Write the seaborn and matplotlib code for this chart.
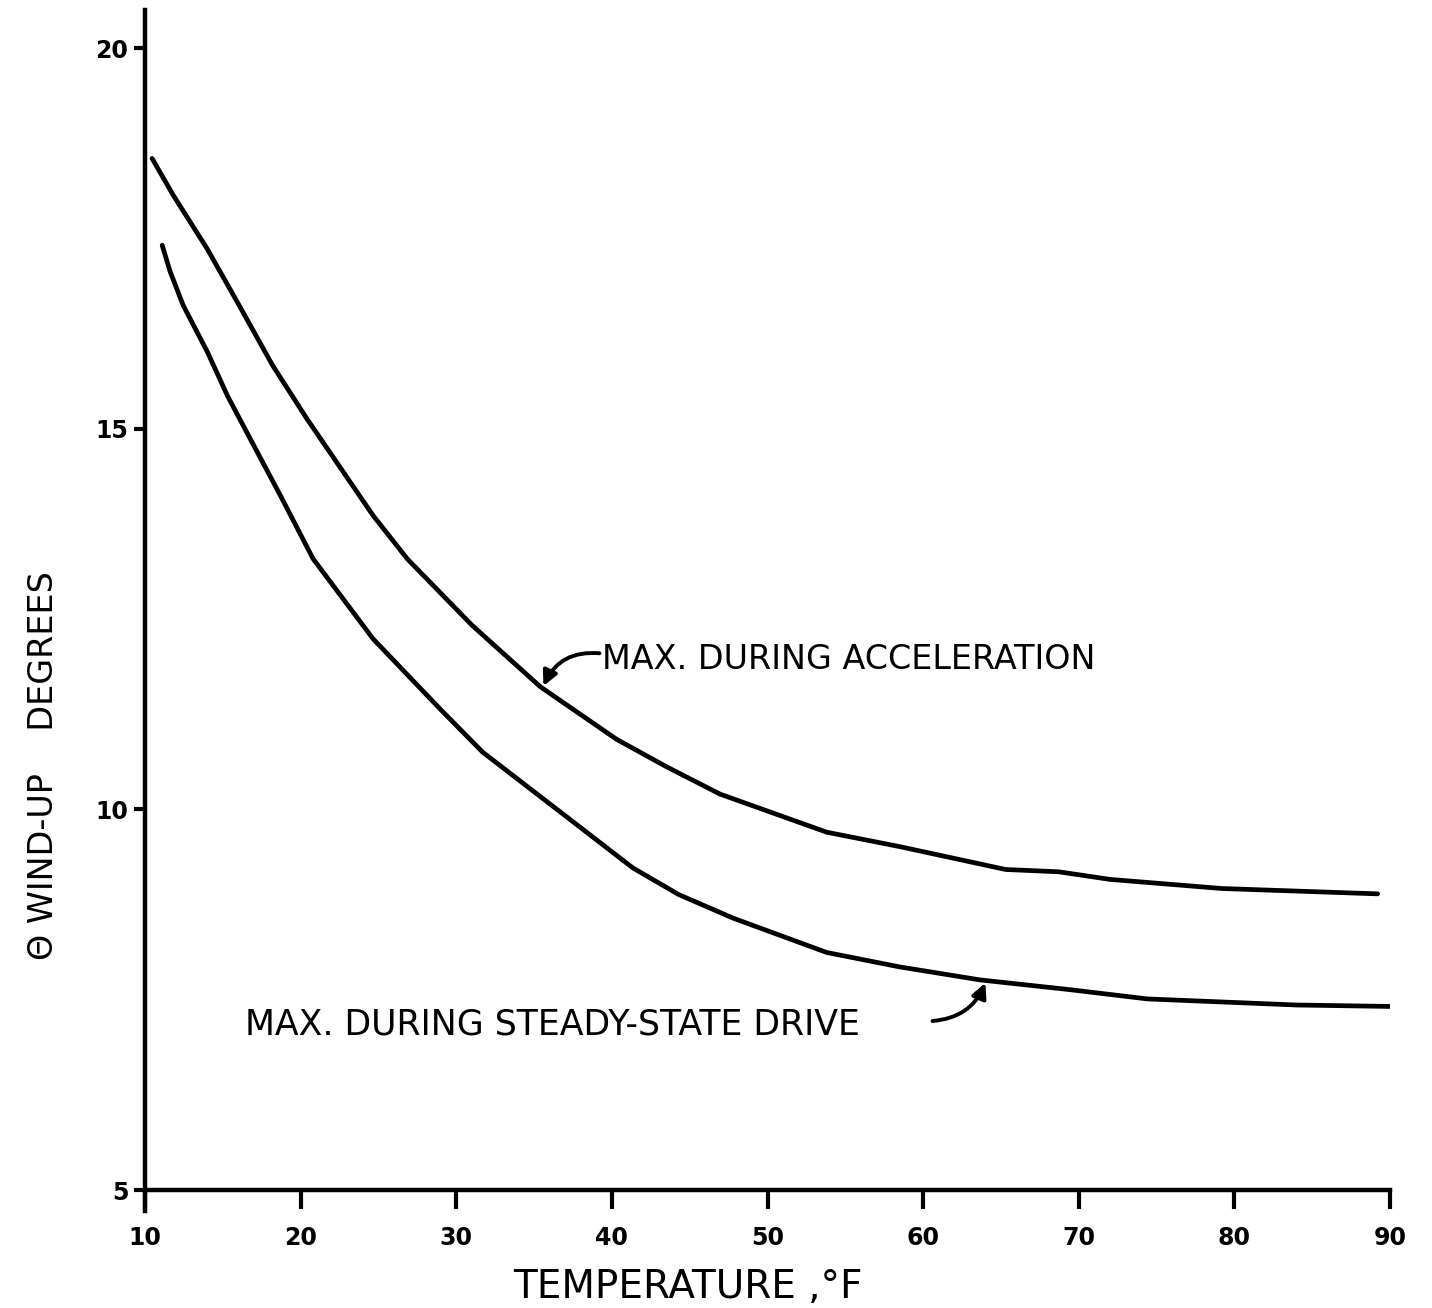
import numpy as np
import pandas as pd
import matplotlib
matplotlib.use("Agg")
import matplotlib.pyplot as plt
import seaborn as sns

# Data
accel_temp = [10.45, 11.8, 14.0, 16.1, 18.2, 20.4, 24.65, 26.85, 31.0, 35.4, 40.3, 43.5, 46.95, 53.8, 58.5, 65.3, 68.7, 72.0, 79.2, 89.2]
accel_deg = [18.55, 18.07, 17.36, 16.6, 15.83, 15.13, 13.86, 13.29, 12.42, 11.61, 10.92, 10.56, 10.20, 9.70, 9.51, 9.21, 9.18, 9.08, 8.96, 8.89]

steady_temp = [11.1, 11.6, 12.45, 14.0, 15.3, 16.75, 18.7, 20.8, 24.65, 28.95, 31.7, 37.1, 41.35, 44.3, 47.8, 53.8, 58.5, 63.65, 69.5, 74.4, 84.0, 90.4]
steady_deg = [17.41, 17.07, 16.62, 16.01, 15.43, 14.87, 14.12, 13.29, 12.24, 11.32, 10.75, 9.90, 9.23, 8.88, 8.57, 8.12, 7.93, 7.76, 7.63, 7.51, 7.43, 7.41]

x_ticks = [10, 20, 30, 40, 50, 60, 70, 80, 90]
y_ticks = [5, 10, 15, 20]

accel_label = "MAX. DURING ACCELERATION"
steady_label = "MAX. DURING STEADY-STATE DRIVE"
x_title = "TEMPERATURE ,°F"
y_title = "Θ WIND-UP    DEGREES"

df = pd.concat([
    pd.DataFrame({"temp": accel_temp, "deg": accel_deg, "curve": accel_label}),
    pd.DataFrame({"temp": steady_temp, "deg": steady_deg, "curve": steady_label}),
])

sns.set_theme(style="white")
plt.rcParams['font.family'] = ['DejaVu Sans']
plt.rcParams.update({"text.color": "black", "axes.labelcolor": "black",
                     "xtick.color": "black", "ytick.color": "black"})

fig = plt.figure(figsize=(14.32, 13.08), dpi=100)
ax = fig.add_axes([0.1013, 0.0902, 0.8694, 0.9022])

sns.lineplot(data=df, x="temp", y="deg", hue="curve", units="curve", estimator=None,
             sort=False, palette=["black", "black"], linewidth=3.4, legend=False, ax=ax)

ax.set_xlim(10, 90)
ax.set_ylim(5, 20.5)
ax.set_xticks(x_ticks)
ax.set_yticks(y_ticks)
ax.set_xticklabels([str(t) for t in x_ticks], fontsize=17, fontweight="bold")
ax.set_yticklabels([str(t) for t in y_ticks], fontsize=17, fontweight="bold")
ax.tick_params(axis="x", direction="out", length=14, width=3, color="black", pad=12)
ax.tick_params(axis="y", direction="out", length=8, width=3, color="black", pad=4)
ax.xaxis.set_ticks_position("bottom")
ax.yaxis.set_ticks_position("left")

for s in ["top", "right"]:
    ax.spines[s].set_visible(False)
for s in ["left", "bottom"]:
    ax.spines[s].set_linewidth(3.2)
    ax.spines[s].set_color("black")
ax.spines["left"].set_bounds(4.72, 20.5)
ax.grid(False)

ax.set_xlabel(x_title, fontsize=28)
ax.xaxis.set_label_coords(0.436, -0.066)
ax.set_ylabel(y_title, fontsize=24)
ax.yaxis.set_label_coords(-0.068, 0.36)

# annotations
ax.text(39.35, 11.97, accel_label, fontsize=24, va="center", ha="left")
ax.annotate("", xy=(35.6, 11.62), xytext=(39.2, 12.05),
            arrowprops=dict(arrowstyle="-|>", color="black", lw=2.8,
                            connectionstyle="arc3,rad=0.35", mutation_scale=22,
                            shrinkA=0, shrinkB=0))
ax.text(16.4, 7.17, steady_label, fontsize=25, va="center", ha="left")
ax.annotate("", xy=(64.0, 7.72), xytext=(60.6, 7.22),
            arrowprops=dict(arrowstyle="-|>", color="black", lw=2.8,
                            connectionstyle="arc3,rad=0.3", mutation_scale=22,
                            shrinkA=0, shrinkB=0))

fig.savefig("out.png", dpi=100, facecolor="white")
